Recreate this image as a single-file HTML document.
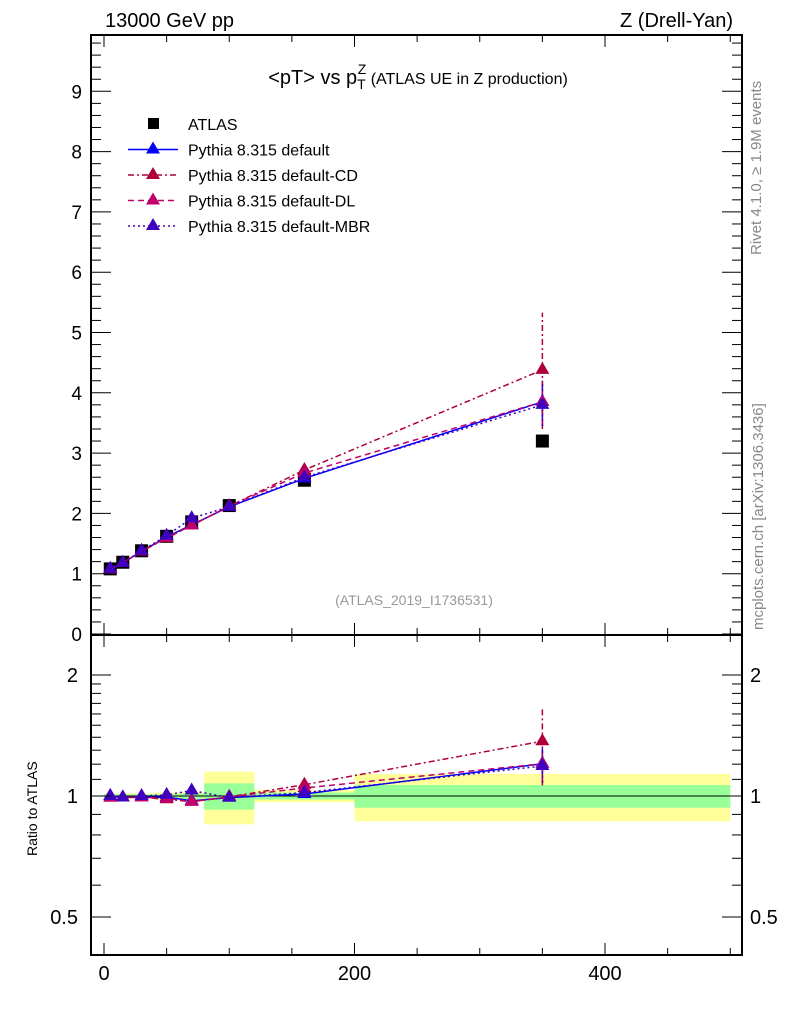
<!DOCTYPE html>
<html><head><meta charset="utf-8"><style>
body{margin:0;background:#fff;}
svg{display:block;font-family:"Liberation Sans",sans-serif;}
</style></head><body>
<svg id="chart" width="786" height="1024" xmlns="http://www.w3.org/2000/svg">
<text x="105" y="27" font-size="20">13000 GeV pp</text>
<text x="733" y="27" font-size="20" text-anchor="end">Z (Drell-Yan)</text>
<text x="0" y="0" font-size="15" fill="#888" transform="translate(761,255) rotate(-90)">Rivet 4.1.0, ≥ 1.9M events</text>
<text x="0" y="0" font-size="15" fill="#888" transform="translate(763,630) rotate(-90)">mcplots.cern.ch [arXiv:1306.3436]</text>
<text x="414" y="605" font-size="14" fill="#999" text-anchor="middle">(ATLAS_2019_I1736531)</text>
<text x="0" y="0" font-size="14" transform="translate(37,856) rotate(-90)">Ratio to ATLAS</text>
<g id="bands"></g>
<g id="main"></g>
<g id="ratio"></g>
<g id="axes"></g>
<g id="legend"></g>
<text x="418" y="84" font-size="20" text-anchor="middle">&lt;pT&gt; vs p<tspan font-size="14" dy="5">T</tspan><tspan font-size="14" dx="-8" dy="-15">Z</tspan><tspan font-size="16" dy="10"> (ATLAS UE in Z production)</tspan></text>
</svg>
<script>
const xCenters=[5,15,30,50,70,100,160,350];
const binEdges=[0,10,20,40,60,80,120,200,500];
const dataVals=[1.08,1.19,1.38,1.62,1.86,2.13,2.55,3.20];
const defaultVals=[1.08,1.18,1.37,1.61,1.81,2.11,2.58,3.85];
const cdVals=[1.07,1.18,1.37,1.59,1.80,2.12,2.72,4.38];
const dlVals=[1.07,1.18,1.37,1.60,1.80,2.12,2.67,3.85];
const mbrVals=[1.08,1.18,1.38,1.63,1.92,2.11,2.60,3.80];
const lastErrLo=[3.45,3.40,3.45,3.45];
const lastErrHi=[4.20,5.33,4.15,4.15];
const statBand=[0.01,0.01,0.01,0.01,0.015,0.075,0.02,0.065];
const totBand=[0.015,0.015,0.015,0.02,0.025,0.15,0.035,0.135];
const yTicks=[0,1,2,3,4,5,6,7,8,9];
const xTicks=[0,200,400];
const rTicks=[0.5,1,2];

const NS="http://www.w3.org/2000/svg";
const L=91,R=742,T=35,MB=635,RB=955;
const X=v=>104+v*1.2525;
const Y=v=>634-v*60.3;
const RY=v=>796-Math.log2(v)*121;
function mk(tag,attrs,parent){const e=document.createElementNS(NS,tag);for(const k in attrs)e.setAttribute(k,attrs[k]);parent.appendChild(e);return e;}
const bands=document.getElementById('bands'),main=document.getElementById('main'),ratio=document.getElementById('ratio'),axes=document.getElementById('axes'),leg=document.getElementById('legend');

for(let i=0;i<xCenters.length;i++){
  const x0=X(binEdges[i]),x1=X(binEdges[i+1]);
  const b1=mk('rect',{x:x0,y:RY(1+totBand[i]),width:x1-x0,height:RY(1-totBand[i])-RY(1+totBand[i]),fill:'#ffff99'},bands);
  
  
  const b2=mk('rect',{x:x0,y:RY(1+statBand[i]),width:x1-x0,height:RY(1-statBand[i])-RY(1+statBand[i]),fill:'#99ff99'},bands);
  
  
}
const rl=mk('line',{x1:L,x2:R,y1:RY(1),y2:RY(1),stroke:'#000','stroke-width':1},bands);



const series=[
 {name:'Pythia 8.315 default',vals:defaultVals,color:'#0000ff',dash:'',key:'default'},
 {name:'Pythia 8.315 default-CD',vals:cdVals,color:'#b0003c',dash:'6,3,2,3',key:'cd'},
 {name:'Pythia 8.315 default-DL',vals:dlVals,color:'#c0006a',dash:'6,4',key:'dl'},
 {name:'Pythia 8.315 default-MBR',vals:mbrVals,color:'#3f00c0',dash:'2,3',key:'mbr'}
];
function tri(x,y,c,p,name){const t=mk('path',{d:`M${x},${y-8}L${x+7},${y+4}L${x-7},${y+4}Z`,fill:c},p);}

dataVals.forEach((v,i)=>{const r=mk('rect',{x:X(xCenters[i])-6.5,y:Y(v)-6.5,width:13,height:13,fill:'#000'},main);

});

series.forEach((s,si)=>{
  const pts=s.vals.map((v,i)=>X(xCenters[i])+','+Y(v)).join(' ');
  const pl=mk('polyline',{points:pts,fill:'none',stroke:s.color,'stroke-width':1.5,'stroke-dasharray':s.dash},main);
  
  
  const n=s.vals.length-1,xl=X(xCenters[n]);
  const eb=mk('line',{x1:xl,x2:xl,y1:Y(lastErrLo[si]),y2:Y(lastErrHi[si]),stroke:s.color,'stroke-width':1.5,'stroke-dasharray':s.dash},main);
  
  
  s.vals.forEach((v,i)=>tri(X(xCenters[i]),Y(v),s.color,main,s.key+'-marker'));
  const rpts=s.vals.map((v,i)=>X(xCenters[i])+','+RY(v/dataVals[i])).join(' ');
  const rp=mk('polyline',{points:rpts,fill:'none',stroke:s.color,'stroke-width':1.5,'stroke-dasharray':s.dash},ratio);
  
  
  const re=mk('line',{x1:xl,x2:xl,y1:RY(lastErrLo[si]/dataVals[n]),y2:RY(lastErrHi[si]/dataVals[n]),stroke:s.color,'stroke-width':1.5,'stroke-dasharray':s.dash},ratio);
  
  
  s.vals.forEach((v,i)=>tri(X(xCenters[i]),RY(v/dataVals[i]),s.color,ratio,s.key+'-ratio-marker'));
});

[[T,MB],[MB,RB]].forEach(([a,b],k)=>{const f=mk('rect',{x:L,y:a,width:R-L,height:b-a,fill:'none',stroke:'#000','stroke-width':2},axes);

});
for(let v=0;v<=9.9;v+=0.2){const y=Y(v);if(y<T)break;const maj=Math.abs(v-Math.round(v))<1e-6;const len=maj?20:10;
mk('line',{x1:L,x2:L+len,y1:y,y2:y,stroke:'#000'},axes);mk('line',{x1:R,x2:R-len,y1:y,y2:y,stroke:'#000'},axes);}
yTicks.forEach(v=>{const t=mk('text',{x:82,y:Y(v)+7,'font-size':19,'text-anchor':'end'},axes);t.textContent=v;

});
for(let v=0;v<=500;v+=50){const x=X(v);const maj=v%200===0;const len=maj?12:7;
[T,MB].forEach(y=>mk('line',{x1:x,x2:x,y1:y,y2:y+len,stroke:'#000'},axes));
[MB,RB].forEach(y=>mk('line',{x1:x,x2:x,y1:y,y2:y-len,stroke:'#000'},axes));}
xTicks.forEach(v=>{const t=mk('text',{x:X(v),y:980,'font-size':20,'text-anchor':'middle'},axes);t.textContent=v;

});
[0.5,0.6,0.7,0.8,0.9,1,1.1,1.2,1.3,1.4,1.5,1.6,1.7,1.8,1.9,2].forEach(v=>{const y=RY(v);const maj=rTicks.includes(v);const len=maj?20:10;
mk('line',{x1:L,x2:L+len,y1:y,y2:y,stroke:'#000'},axes);mk('line',{x1:R,x2:R-len,y1:y,y2:y,stroke:'#000'},axes);});
rTicks.forEach(v=>{const lab=String(v);
const t=mk('text',{x:78,y:RY(v)+7,'font-size':20,'text-anchor':'end'},axes);t.textContent=lab;


const t2=mk('text',{x:750,y:RY(v)+7,'font-size':20},axes);t2.textContent=lab;

});

const ly0=124;
const lr=mk('rect',{x:148,y:ly0-6,width:11,height:11,fill:'#000'},leg);


const lt=mk('text',{x:188,y:ly0+6,'font-size':16},leg);lt.textContent='ATLAS';


series.forEach((s,i)=>{const y=ly0+25.5*(i+1);
mk('line',{x1:128,x2:178,y1:y,y2:y,stroke:s.color,'stroke-width':1.5,'stroke-dasharray':s.dash},leg);
tri(153,y,s.color,leg,'legend-marker');
const t=mk('text',{x:188,y:y+6,'font-size':16},leg);t.textContent=s.name;

});
</script>
</body></html>
